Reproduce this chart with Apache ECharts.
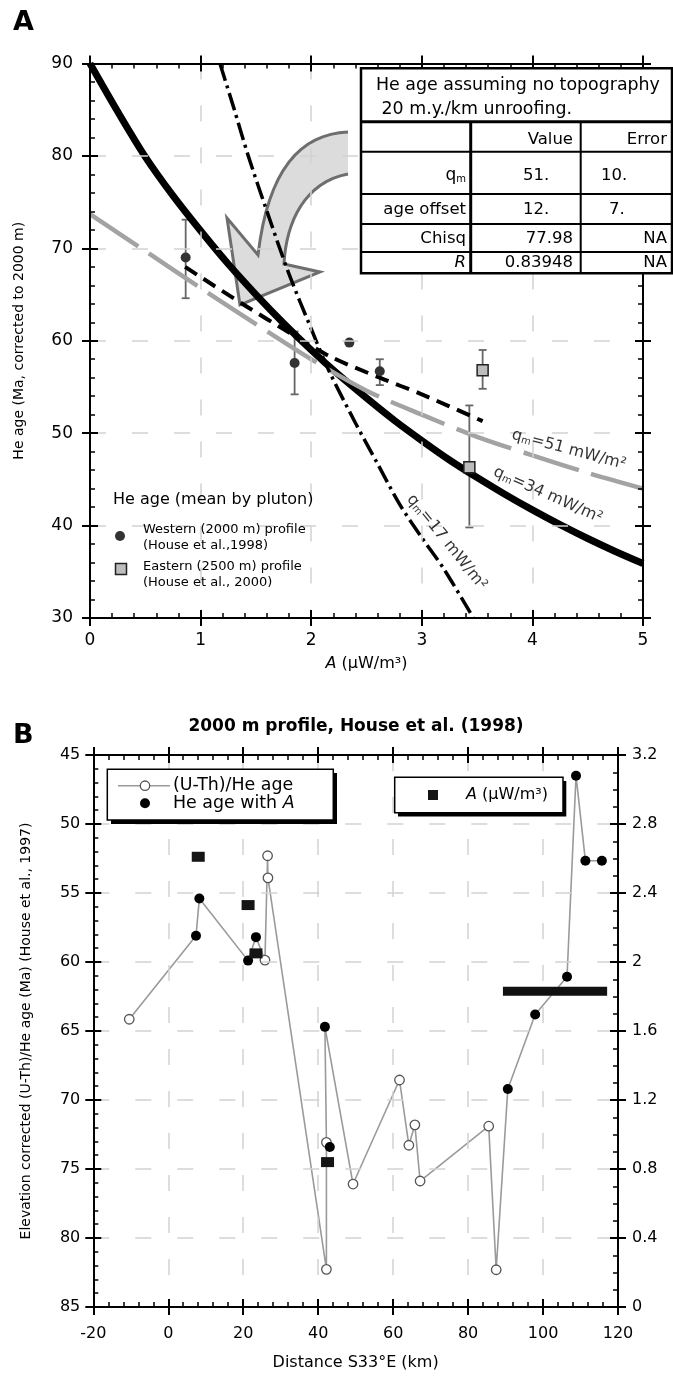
<!DOCTYPE html>
<html><head><meta charset="utf-8">
<script src="https://cdn.jsdelivr.net/npm/echarts@6.0.0/dist/echarts.min.js"></script>
<style>html,body{margin:0;padding:0;background:#fff}#c{width:673px;height:1377px}</style>
</head><body><div id="c"></div>
<script>
// ================= Panel A data =================
const aXMin = 0, aXMax = 5, aXStep = 1;
const aYMin = 30, aYMax = 90, aYStep = 10;
// q_m = 34 mW/m2 (thick solid)
const curve34X = [0,0.25,0.5,0.75,1,1.25,1.5,1.75,2,2.25,2.5,2.75,3,3.25,3.5,3.75,4,4.25,4.5,4.75,5];
const curve34Y = [90,84.8,79.9,75.7,71.9,68.3,65.0,61.9,59.0,56.3,53.8,51.4,49.2,47.1,45.2,43.4,41.7,40.1,38.6,37.2,35.9];
// q_m = 51 mW/m2 (grey long dash)
const curve51X = [0,0.5,1,1.5,2,2.5,3,3.5,4,4.5,5];
const curve51Y = [73.7,69.7,65.7,61.8,58.0,54.6,52.0,49.6,47.6,45.7,44.0];
// q_m = 17 mW/m2 (dash-dot)
const curve17X = [1.175,1.3,1.431,1.6,1.8,2.0,2.155,2.4,2.6,2.8,3.0,3.2,3.466];
const curve17Y = [90,85.2,80,74.0,67.2,61.3,56.9,51.1,46.7,42.3,38.7,35.3,30.0];
// best fit (black short dash)
const fitX = [0.86,1.0,1.39,1.8,2.17,2.62,3.0,3.55];
const fitY = [68.0,66.9,63.9,60.9,58.3,56.0,54.2,51.3];
// Western (2000 m) profile
const westA = [0.865,1.85,2.345,2.62];
const westAge = [69.0,57.6,59.8,56.7];
const westLow = [64.6,54.2,59.8,55.2];
const westHigh = [73.1,61.0,59.8,58.0];
// Eastern (2500 m) profile
const eastA = [3.55,3.43];
const eastAge = [56.8,46.3];
const eastLow = [54.8,39.8];
const eastHigh = [59.0,53.0];
// curve labels
const curveLabelText = ['=51 mW/m²','=34 mW/m²','=17 mW/m²'];
const curveLabelX = [4.33,4.14,3.225];
const curveLabelY = [48.2,43.3,38.2];
const curveLabelRot = [-15,-24,-51];
// table
const tableTitle = ['He age assuming no topography',' 20 m.y./km unroofing.'];
const tableHeader = ['Value','Error'];
const tableRowLabels = ['q_m','age offset','Chisq','R'];
const tableValues = ['51.','12.','77.98','0.83948'];
const tableErrors = ['10.','7.','NA','NA'];
const legendATitle = 'He age (mean by pluton)';
const legendAItems = [['Western (2000 m) profile','(House et al.,1998)'],['Eastern (2500 m) profile','(House et al., 2000)']];

// ================= Panel B data =================
const bXMin = -20, bXMax = 120, bXStep = 20;
const bYMin = 45, bYMax = 85, bYStep = 5;
const bRMin = 0, bRMax = 3.2, bRStep = 0.4;
// samples in the order the grey line connects them; kind U = (U-Th)/He age, A = He age with A
const sampleDist = [-10.4,7.4,8.3,21.3,23.4,25.8,26.5,26.6,42.2,42.2,41.8,43.1,49.3,61.7,64.2,65.8,67.2,85.5,87.5,90.6,97.9,106.4,108.8,111.3,115.7];
const sampleAge  = [64.15,58.1,55.4,59.9,58.2,59.86,52.3,53.9,82.27,73.07,64.7,73.4,76.09,68.55,73.28,71.8,75.87,71.9,82.3,69.2,63.8,61.07,46.5,52.66,52.66];
const sampleKind = ['U','A','A','A','A','U','U','U','U','U','A','A','U','U','U','U','U','U','U','A','A','A','A','A','A'];
const sampleOnLine = [1,1,1,1,1,1,1,1,1,1,1,0,1,1,1,1,1,1,1,1,1,1,1,1,1];
// heat production A (right axis)
const aDist = [8.0,21.3,23.4,42.5];
const aValue = [2.61,2.33,2.05,0.84];
const aRangeDist = [89.3,117.1];
const aRangeValue = 1.83;

// ================= helpers =================
const FF = 'DejaVu Sans';
const zip = (xs, ys) => xs.map((x, i) => [x, ys[i]]);
function fnt(size, weight, style) { return (style || 'normal') + ' ' + (weight || 'normal') + ' ' + size + 'px "' + FF + '"'; }

function axisPair(gridIndex, pos, min, max, interval, minorSplit, o) {
  o = o || {};
  const base = {type: 'value', gridIndex: gridIndex, position: pos, min: min, max: max, interval: interval, inverse: !!o.inverse};
  const main = Object.assign({}, base, {
    axisLine: {show: true, onZero: false, lineStyle: {color: '#000', width: 2}},
    axisTick: {show: true, inside: true, length: 8, lineStyle: {color: '#000', width: 2}},
    minorTick: {show: true, splitNumber: minorSplit, length: 5, lineStyle: {color: '#000', width: 1.5}},
    axisLabel: o.label ? {show: true, margin: o.margin, fontSize: o.fontSize, fontFamily: FF, color: '#000', hideOverlap: false, showMinLabel: true, showMaxLabel: true} : {show: false},
    splitLine: o.grid ? {show: true, lineStyle: {color: '#d2d2d2', width: 1.5, type: [16, 26]}} : {show: false},
    minorSplitLine: {show: false},
    z: 5
  });
  if (o.name) {
    main.name = o.name;
    main.nameLocation = 'middle';
    main.nameGap = o.nameGap;
    main.nameMoveOverlap = false;
    main.nameTextStyle = Object.assign({fontSize: o.nameSize, fontFamily: FF, color: '#000'}, o.nameRich ? {rich: o.nameRich} : {});
  }
  const out = Object.assign({}, base, {
    axisLine: {show: false, onZero: false},
    axisTick: {show: true, inside: false, length: 8, lineStyle: {color: '#000', width: 2}},
    minorTick: {show: false}, axisLabel: {show: false}, splitLine: {show: false}, z: 5
  });
  return [main, out];
}

function errorBars(xs, lows, highs) {
  return {
    type: 'custom', xAxisIndex: 0, yAxisIndex: 0, z: 3,
    encode: {x: 0, y: [1, 2]},
    data: xs.map((x, i) => [x, lows[i], highs[i]]),
    renderItem: function (params, api) {
      const x = api.value(0), lo = api.value(1), hi = api.value(2);
      if (lo === hi) return {type: 'group', children: []};
      const p1 = api.coord([x, hi]), p2 = api.coord([x, lo]);
      const w = 4, st = {stroke: '#666', lineWidth: 1.8};
      return {type: 'group', children: [
        {type: 'line', shape: {x1: p1[0], y1: p1[1], x2: p2[0], y2: p2[1]}, style: st},
        {type: 'line', shape: {x1: p1[0] - w, y1: p1[1], x2: p1[0] + w, y2: p1[1]}, style: st},
        {type: 'line', shape: {x1: p2[0] - w, y1: p2[1], x2: p2[0] + w, y2: p2[1]}, style: st}
      ]};
    }
  };
}

function T(x, y, text, size, o) {
  o = o || {};
  const al = o.align || 'left';
  const st = {text: text, fill: o.color || '#000', font: fnt(size, o.weight, o.italic ? 'italic' : 'normal'),
    align: al, textAlign: al, verticalAlign: 'middle', textVerticalAlign: 'middle'};
  if (o.rich) st.rich = o.rich;
  return {type: 'text', x: x, y: y, z: o.z || 101, silent: true, style: st};
}
function L(x1, y1, x2, y2, w, z, color) {
  return {type: 'line', z: z || 101, silent: true, shape: {x1: x1, y1: y1, x2: x2, y2: y2}, style: {stroke: color || '#000', lineWidth: w}};
}
function R(x, y, w, h, fill, stroke, lw, z) {
  return {type: 'rect', z: z || 100, silent: true, shape: {x: x, y: y, width: w, height: h}, style: {fill: fill, stroke: stroke || null, lineWidth: lw || 0}};
}
function bez(p0, p1, p2, p3, n) {
  const pts = [];
  for (let k = 0; k <= n; k++) {
    const t = k / n, u = 1 - t;
    pts.push([u*u*u*p0[0] + 3*u*u*t*p1[0] + 3*u*t*t*p2[0] + t*t*t*p3[0],
              u*u*u*p0[1] + 3*u*u*t*p1[1] + 3*u*t*t*p2[1] + t*t*t*p3[1]]);
  }
  return pts;
}

// ================= axes =================
const italicA = {i: {fontStyle: 'italic', fontSize: 16, fontFamily: FF, color: '#000'}};
const xA = axisPair(0, 'bottom', aXMin, aXMax, aXStep, 5, {label: true, margin: 14, fontSize: 17, grid: true, name: '{i|A} (μW/m³)', nameGap: 38, nameSize: 16, nameRich: italicA});
const xAT = axisPair(0, 'top', aXMin, aXMax, aXStep, 5, {});
const yA = axisPair(0, 'left', aYMin, aYMax, aYStep, 5, {label: true, margin: 17, fontSize: 17, grid: true, name: 'He age (Ma, corrected to 2000 m)', nameGap: 64, nameSize: 14});
const yAR = axisPair(0, 'right', aYMin, aYMax, aYStep, 5, {});
const xB = axisPair(1, 'bottom', bXMin, bXMax, bXStep, 5, {label: true, margin: 19, fontSize: 16, grid: true, name: 'Distance S33°E (km)', nameGap: 48, nameSize: 16});
const xBT = axisPair(1, 'top', bXMin, bXMax, bXStep, 5, {});
const yB = axisPair(1, 'left', bYMin, bYMax, bYStep, 5, {inverse: true, label: true, margin: 13, fontSize: 16, grid: true, name: 'Elevation corrected (U-Th)/He age (Ma) (House et al., 1997)', nameGap: 60, nameSize: 14});
const yBR = axisPair(1, 'right', bRMin, bRMax, bRStep, 4, {label: true, margin: 14, fontSize: 16});

// ================= series =================
const labelRich = {
  q: {fontSize: 16, fontFamily: FF, color: '#000'},
  m: {fontSize: 10, fontFamily: FF, color: '#000', verticalAlign: 'bottom'},
  t: {fontSize: 16, fontFamily: FF, color: '#000'}
};
const series = [
  {type: 'line', name: 'q34', xAxisIndex: 0, yAxisIndex: 0, data: zip(curve34X, curve34Y), smooth: 0.3, showSymbol: false, z: 3,
    lineStyle: {color: '#000', width: 7}},
  {type: 'line', name: 'q51', xAxisIndex: 0, yAxisIndex: 0, data: zip(curve51X, curve51Y), smooth: 0.3, showSymbol: false, z: 3,
    lineStyle: {color: '#a3a3a3', width: 4.5, type: [58, 13]}},
  {type: 'line', name: 'q17', xAxisIndex: 0, yAxisIndex: 0, data: zip(curve17X, curve17Y), smooth: 0.3, showSymbol: false, z: 3,
    lineStyle: {color: '#000', width: 3.5, type: [18, 5, 3, 5]}},
  {type: 'line', name: 'fit', xAxisIndex: 0, yAxisIndex: 0, data: zip(fitX, fitY), smooth: 0.3, showSymbol: false, z: 3,
    lineStyle: {color: '#000', width: 4, type: [14, 8]}},
  errorBars(westA.concat(eastA), westLow.concat(eastLow), westHigh.concat(eastHigh)),
  {type: 'scatter', name: 'west', xAxisIndex: 0, yAxisIndex: 0, data: zip(westA, westAge), symbol: 'circle', symbolSize: 10, z: 4,
    itemStyle: {color: '#333', opacity: 1}},
  {type: 'scatter', name: 'east', xAxisIndex: 0, yAxisIndex: 0, data: zip(eastA, eastAge), symbol: 'rect', symbolSize: 11, z: 4,
    itemStyle: {color: '#bdbdbd', borderColor: '#222', borderWidth: 1.5, opacity: 1}},
  {type: 'scatter', name: 'labels', xAxisIndex: 0, yAxisIndex: 0, symbolSize: 0, z: 6, silent: true,
    data: curveLabelX.map((x, i) => ({value: [x, curveLabelY[i]], label: {rotate: curveLabelRot[i]}})),
    label: {show: true, position: 'inside', formatter: p => '{q|q}{m|m}{t|' + curveLabelText[p.dataIndex] + '}', rich: labelRich}},
  // Panel B
  {type: 'line', name: 'path', xAxisIndex: 4, yAxisIndex: 4, showSymbol: false, z: 3,
    data: sampleDist.map((d, i) => [d, sampleAge[i]]).filter((p, i) => sampleOnLine[i]),
    lineStyle: {color: '#9a9a9a', width: 1.6}},
  {type: 'scatter', name: 'uth', xAxisIndex: 4, yAxisIndex: 4, symbol: 'circle', symbolSize: 9.5, z: 4,
    data: sampleDist.map((d, i) => [d, sampleAge[i]]).filter((p, i) => sampleKind[i] === 'U'),
    itemStyle: {color: '#fff', borderColor: '#555', borderWidth: 1.3, opacity: 1}},
  {type: 'scatter', name: 'heA', xAxisIndex: 4, yAxisIndex: 4, symbol: 'circle', symbolSize: 10, z: 5,
    data: sampleDist.map((d, i) => [d, sampleAge[i]]).filter((p, i) => sampleKind[i] === 'A'),
    itemStyle: {color: '#000', opacity: 1}},
  {type: 'scatter', name: 'A', xAxisIndex: 4, yAxisIndex: 6, symbol: 'rect', symbolSize: [13, 10], z: 5,
    data: zip(aDist, aValue), itemStyle: {color: '#151515', opacity: 1}},
  {type: 'line', name: 'Arange', xAxisIndex: 4, yAxisIndex: 6, showSymbol: false, z: 5,
    data: aRangeDist.map(d => [d, aRangeValue]), lineStyle: {color: '#111', width: 9, cap: 'butt'}}
];

// ================= graphics =================
const g = [];
g.push(T(13, 23, 'A', 27, {weight: 'bold'}));
g.push(T(13, 736, 'B', 27, {weight: 'bold'}));
g.push(T(356, 727, '2000 m profile, House et al. (1998)', 17, {weight: 'bold', align: 'center'}));
// curved arrow (decoration)
const arrowInner = bez([348,174],[305,182],[286,222],[284,264],16);
const arrowOuter = bez([258,255],[268,170],[300,134],[348,132],16);
const arrowPts = arrowInner.concat([[320,272],[240,305],[227,218]]).concat(arrowOuter);
g.push({type: 'polygon', z: 1, silent: true, shape: {points: arrowPts}, style: {fill: '#dcdcdc'}});
g.push({type: 'polyline', z: 1, silent: true, shape: {points: arrowPts}, style: {stroke: '#6e6e6e', lineWidth: 3, fill: null, lineJoin: 'miter'}});
// table
g.push(R(361, 68.3, 311, 205, '#fff', '#000', 2.5, 100));
g.push(L(361, 121.7, 672, 121.7, 3));
[151.7, 194, 224, 252].forEach(y => g.push(L(361, y, 672, y, 2)));
g.push(L(470.7, 121.7, 470.7, 273.3, 3));
g.push(L(580.7, 121.7, 580.7, 273.3, 2));
g.push(T(376, 85, tableTitle[0], 17.4));
g.push(T(376, 109, tableTitle[1], 17.4));
g.push(T(573, 140, tableHeader[0], 16.5, {align: 'right'}));
g.push(T(667, 140, tableHeader[1], 16.5, {align: 'right'}));
const rowY = [176, 209.5, 239, 262.5];
const tRich = {q: {fontSize: 17, fontFamily: FF, fill: '#000'}, m: {fontSize: 10, fontFamily: FF, fill: '#000', verticalAlign: 'bottom'}};
tableRowLabels.forEach((lab, i) => {
  if (lab === 'q_m') g.push(T(466, rowY[i], '{q|q}{m|m}', 16.5, {align: 'right', rich: tRich}));
  else g.push(T(466, rowY[i], lab, 16.5, {align: 'right', italic: lab === 'R'}));
  if (i < 2) g.push(T(523, rowY[i], tableValues[i], 16.5));
  else g.push(T(573, rowY[i], tableValues[i], 16.5, {align: 'right'}));
  if (i < 2) g.push(T(i === 0 ? 601 : 609, rowY[i], tableErrors[i], 16.5));
  else g.push(T(667, rowY[i], tableErrors[i], 16.5, {align: 'right'}));
});
// legend panel A
g.push(T(113, 500, legendATitle, 16, {z: 50}));
g.push({type: 'circle', z: 50, silent: true, shape: {cx: 120, cy: 536, r: 5}, style: {fill: '#333'}});
g.push(T(143, 529.5, legendAItems[0][0], 13, {z: 50}));
g.push(T(143, 545.5, legendAItems[0][1], 13, {z: 50}));
g.push(R(115.5, 563.5, 11, 11, '#bdbdbd', '#222', 1.5, 50));
g.push(T(143, 566.5, legendAItems[1][0], 13, {z: 50}));
g.push(T(143, 582.5, legendAItems[1][1], 13, {z: 50}));
// legend boxes panel B
g.push(R(111, 773, 226, 51, '#000', null, 0, 99));
g.push(R(107.3, 769.3, 226, 50.7, '#fff', '#000', 1.5, 100));
g.push(L(118, 785.7, 170, 785.7, 1.6, 101, '#9a9a9a'));
g.push({type: 'circle', z: 102, silent: true, shape: {cx: 145, cy: 785.7, r: 4.7}, style: {fill: '#fff', stroke: '#555', lineWidth: 1.3}});
g.push(T(173, 785.7, '(U-Th)/He age', 17.4));
g.push({type: 'circle', z: 102, silent: true, shape: {cx: 145, cy: 803.3, r: 5}, style: {fill: '#000'}});
const rA = {n: {fontSize: 17.4, fontFamily: FF, fill: '#000'}, i: {fontSize: 17.4, fontFamily: FF, fontStyle: 'italic', fill: '#000'}};
const rA2 = {n: {fontSize: 16, fontFamily: FF, fill: '#000'}, i: {fontSize: 16, fontFamily: FF, fontStyle: 'italic', fill: '#000'}};
g.push(T(173, 803.3, '{n|He age with }{i|A}', 17.4, {rich: rA}));
g.push(R(398, 781, 168.3, 35.4, '#000', null, 0, 99));
g.push(R(394.7, 777.3, 168.3, 35.4, '#fff', '#000', 1.5, 100));
g.push(R(428, 790, 10, 10, '#151515', null, 0, 102));
g.push(T(466, 795, '{i|A}{n| (μW/m³)}', 16, {rich: rA2}));

const option = {
  animation: false,
  backgroundColor: '#fff',
  textStyle: {fontFamily: FF},
  grid: [
    {left: 90, top: 63.5, width: 553, height: 554.5, containLabel: false, outerBoundsMode: 'none'},
    {left: 93.3, top: 755, width: 524.7, height: 552, containLabel: false, outerBoundsMode: 'none'}
  ],
  xAxis: [xA[0], xA[1], xAT[0], xAT[1], xB[0], xB[1], xBT[0], xBT[1]],
  yAxis: [yA[0], yA[1], yAR[0], yAR[1], yB[0], yB[1], yBR[0], yBR[1]],
  series: series,
  graphic: {elements: g}
};
const chart = echarts.init(document.getElementById('c'), null, {renderer: 'canvas'});
chart.setOption(option);
</script>
</body></html>
